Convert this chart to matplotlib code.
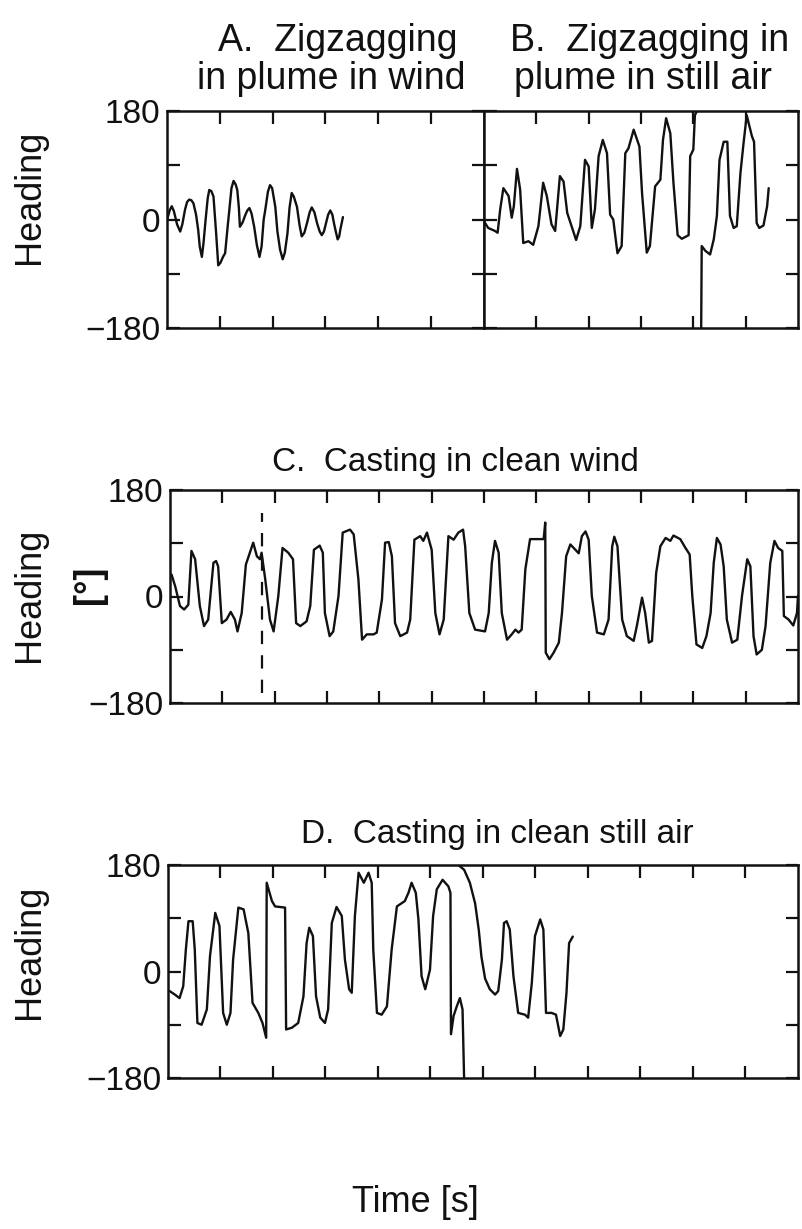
import numpy as np
import matplotlib
matplotlib.use("Agg")
import matplotlib.pyplot as plt

plt.rcParams['font.family'] = ['Liberation Sans', 'DejaVu Sans']

W, H = 803, 1229

# A. zigzagging in plume in wind
a_t = [0.00, 0.05, 0.09, 0.13, 0.19, 0.25, 0.29, 0.34, 0.38, 0.42, 0.46, 0.50, 0.55,
       0.59, 0.62, 0.66, 0.69, 0.73, 0.77, 0.80, 0.84, 0.88, 0.93, 0.97, 1.01, 1.06,
       1.10, 1.15, 1.18, 1.22, 1.26, 1.30, 1.33, 1.36, 1.38, 1.43, 1.48, 1.52, 1.56,
       1.60, 1.65, 1.70, 1.75, 1.79, 1.83, 1.86, 1.91, 1.95, 1.99, 2.05, 2.09, 2.14,
       2.19, 2.23, 2.28, 2.32, 2.36, 2.40, 2.46, 2.51, 2.55, 2.60, 2.65, 2.70, 2.74,
       2.79, 2.84, 2.89, 2.93, 2.97, 3.01, 3.05, 3.09, 3.13, 3.16, 3.20, 3.23, 3.26,
       3.28, 3.33]
a_h = [-1, 15, 22, 14, -8, -20, -8, 16, 29, 33, 32, 27, 8,
       -17, -45, -62, -40, -1, 35, 49, 47, 38, -23, -76, -72, -62,
       -56, -10, 16, 52, 64, 58, 49, 20, -12, -5, 7, 15, 19,
       10, -12, -42, -62, -45, 0, 16, 46, 57, 52, 21, -20, -50,
       -66, -55, -23, 20, 44, 38, 21, -10, -28, -22, -6, 12, 20,
       12, -6, -20, -26, -20, -6, 8, 15, 8, -6, -22, -33, -28,
       -17, 4]

# B. zigzagging in plume in still air (wraps at +/-180)
b_t = [0.00, 0.08, 0.21, 0.26, 0.31, 0.37, 0.47, 0.53, 0.57, 0.63, 0.69, 0.75, 0.85,
       0.94, 1.04, 1.13, 1.20, 1.29, 1.36, 1.45, 1.52, 1.59, 1.76, 1.84, 1.93, 2.00,
       2.06, 2.12, 2.19, 2.27, 2.35, 2.41, 2.47, 2.55, 2.63, 2.70, 2.76, 2.86, 2.97,
       3.02, 3.11, 3.17, 3.27, 3.37, 3.42, 3.48, 3.56, 3.62, 3.70, 3.78, 3.91, 3.94,
       4.00, 4.03, 4.07, np.nan, 4.15, 4.16, 4.23, 4.32, 4.39, 4.45, 4.50, 4.58, 4.65,
       4.70, 4.77, 4.83, 4.90, 4.96, 5.02, 5.12, 5.16, 5.21, 5.26, 5.34, 5.41, 5.44]
b_h = [-3, -14, -19, -22, 17, 52, 39, 3, 22, 84, 50, -39, -36,
       -42, -11, 61, 39, -8, -19, 72, 63, 11, -34, -11, 99, 88,
       -14, 17, 105, 132, 110, 8, 0, -56, -44, 110, 118, 149, 121,
       44, -55, -44, 55, 66, 132, 168, 143, 61, -26, -32, -26, 105,
       116, 173, 180, np.nan, -180, -44, -52, -58, -33, 6, 99, 129, 129,
       6, -14, -11, 77, 127, 173, 138, 129, -6, -14, -10, 22, 52]

# C. casting in clean wind
c_t = [0.03, 0.10, 0.19, 0.27, 0.35, 0.41, 0.48, 0.57, 0.65, 0.73, 0.83, 0.88, 0.92,
       0.99, 1.08, 1.16, 1.24, 1.29, 1.37, 1.45, 1.59, 1.66, 1.72, 1.75, 1.82, 1.91,
       1.98, 2.07, 2.15, 2.26, 2.35, 2.41, 2.49, 2.61, 2.68, 2.75, 2.86, 2.92, 2.96,
       3.05, 3.12, 3.22, 3.30, 3.44, 3.51, 3.60, 3.67, 3.76, 3.89, 3.95, 4.05, 4.11,
       4.18, 4.24, 4.30, 4.40, 4.53, 4.59, 4.67, 4.78, 4.84, 4.91, 5.00, 5.07, 5.15,
       5.23, 5.32, 5.42, 5.51, 5.60, 5.64, 5.72, 5.83, 6.02, 6.09, 6.15, 6.21, 6.28,
       6.34, 6.44, 6.53, 6.60, 6.66, 6.72, 6.79, 6.88, 7.14, 7.17, 7.18, 7.25, 7.33,
       7.43, 7.49, 7.57, 7.65, 7.81, 7.87, 7.94, 8.00, 8.06, 8.16, 8.29, 8.38, 8.45,
       8.49, 8.55, 8.64, 8.73, 8.86, 8.92, 9.02, 9.08, 9.15, 9.21, 9.29, 9.37, 9.47,
       9.56, 9.62, 9.75, 9.85, 9.93, 9.98, 10.06, 10.17, 10.25, 10.33, 10.39, 10.45,
       10.52, 10.58, 10.64, 10.74, 10.84, 10.93, 11.03, 11.09, 11.15, 11.21, 11.31,
       11.38, 11.47, 11.55, 11.62, 11.70, 11.73, 11.82, 11.91, 11.98, 12.00]
c_h = [37, 17, -16, -22, -14, 77, 63, -16, -50, -39, 57, 60, 51,
       -45, -39, -26, -39, -59, -28, 54, 91, 68, 63, 74, 29, -39,
       -59, 1, 82, 74, 63, -45, -50, -42, -16, 79, 86, 74, -28,
       -67, -59, 1, 108, 113, 105, 29, -73, -64, -64, -61, -5, 91,
       92, 68, -45, -67, -61, -39, 96, 102, 94, 108, 79, -28, -64,
       -39, 102, 96, 108, 113, 85, -28, -56, -59, -28, 57, 94, 74,
       -28, -73, -64, -56, -61, -56, 46, 97, 97, 125, -95, -106, -95,
       -78, -28, 68, 88, 73, 102, 110, 96, 1, -61, -64, -39, 85,
       101, 85, -39, -67, -75, -50, -2, -28, -78, -75, 40, 85, 99,
       94, 103, 97, 82, 71, 1, -81, -87, -67, -28, 57, 99,
       88, 51, -39, -78, -73, 1, 63, 51, -67, -98, -90,
       -50, 57, 94, 82, 77, -33, -39, -49, -28, 1]
c_mark_t = 1.75
c_mark_span = (-163, 141)

# D. casting in clean still air (wraps at +/-180)
d_t = [0.03, 0.13, 0.22, 0.29, 0.34, 0.39, 0.47, 0.51, 0.56, 0.64, 0.74, 0.80, 0.90,
       0.98, 1.05, 1.12, 1.19, 1.24, 1.34, 1.44, 1.53, 1.61, 1.72, 1.80, 1.87, 1.88,
       1.98, 2.04, 2.23, 2.25, 2.36, 2.48, 2.58, 2.64, 2.69, 2.76, 2.82, 2.90, 2.99,
       3.05, 3.12, 3.21, 3.31, 3.37, 3.45, 3.50, 3.56, 3.63, 3.73, 3.82, 3.88, 3.91,
       3.98, 4.07, 4.17, 4.26, 4.36, 4.51, 4.58, 4.64, 4.72, 4.77, 4.83, 4.90, 4.99,
       5.05, 5.12, 5.23, 5.34, 5.38, 5.39, 5.44, 5.50, 5.56, 5.61, 5.64, np.nan,
       5.53, 5.64, 5.75, 5.85, 5.92, 5.97, 6.04, 6.13, 6.23, 6.29, 6.36, 6.40, 6.45,
       6.51, 6.58, 6.67, 6.80, 6.86, 6.93, 6.99, 7.09, 7.15, 7.20, 7.31, 7.39, 7.47,
       7.53, 7.59, 7.64, 7.71]
d_h = [-33, -39, -45, -25, 37, 85, 85, 37, -87, -90, -64, 26, 99,
       77, -70, -90, -70, 20, 108, 105, 65, -53, -70, -87, -112, 150,
       119, 110, 108, -98, -95, -87, -42, 48, 74, 60, -42, -78, -87,
       -64, 82, 109, 94, 20, -30, -36, 94, 167, 150, 167, 150, 37,
       -70, -73, -59, 37, 110, 119, 133, 150, 133, 88, -8, -30, 3,
       94, 139, 155, 144, 133, -106, -75, -59, -45, -64, -180, np.nan,
       180, 172, 150, 115, 70, 25, -12, -30, -39, -33, 20, 82, 85,
       71, -8, -70, -73, -78, -19, 60, 88, 71, -70, -70, -73, -109,
       -98, -36, 48, 59]

ytick_vals = [-180, -90, 0, 90, 180]
ytick_text = ['\u2212180', '', '0', '', '180']

INK = '#111111'


def px_box(left, top, right, bottom):
    return [left / W, 1 - bottom / H, (right - left) / W, (bottom - top) / H]


def fig_text(x, y, s, **kw):
    fig.text(x / W, 1 - y / H, s, ha='center', va='center', color=INK, **kw)


def setup(ax, xmax, labels=True):
    ax.set_xlim(0, xmax)
    ax.set_ylim(-180, 180)
    ax.set_xticks(range(1, xmax))
    ax.set_xticklabels([])
    ax.set_yticks(ytick_vals)
    ax.set_yticklabels(ytick_text if labels else [])
    ax.tick_params(direction='in', top=True, right=True, length=9, width=1.6,
                   labelsize=24, pad=5, colors=INK)
    for sp in ax.spines.values():
        sp.set_linewidth(1.8)
        sp.set_color(INK)


fig = plt.figure(figsize=(W / 100, H / 100), dpi=100)

ax_a = fig.add_axes(px_box(167, 111, 484, 328))
ax_b = fig.add_axes(px_box(484, 111, 798, 328))
ax_c = fig.add_axes(px_box(170, 490, 798, 703))
ax_d = fig.add_axes(px_box(168, 865, 798, 1078))

trace = dict(color=INK, lw=1.7, solid_joinstyle='round', solid_capstyle='round')
ax_a.plot(a_t, a_h, **trace)
ax_b.plot(b_t, b_h, **trace)
ax_c.plot(c_t, c_h, **trace)
ax_c.plot([c_mark_t, c_mark_t], c_mark_span, color=INK, lw=1.6,
          linestyle=(0, (6, 5)))
ax_d.plot(d_t, d_h, **trace)

setup(ax_a, 6)
setup(ax_b, 6, labels=False)
setup(ax_c, 12)
setup(ax_d, 12)

fig_text(338, 41, 'A.  Zigzagging', fontsize=27)
fig_text(331, 79, 'in plume in wind', fontsize=27)
fig_text(650, 41, 'B.  Zigzagging in', fontsize=27)
fig_text(643, 79, 'plume in still air', fontsize=27)
fig_text(455, 462, 'C.  Casting in clean wind', fontsize=24)
fig_text(497, 835, 'D.  Casting in clean still air', fontsize=24)

for y in (197, 595, 952):
    fig_text(30, y, 'Heading', fontsize=26, rotation=90)
fig_text(90, 585, '[\u00b0]', fontsize=26, rotation=90, fontweight='bold')

fig_text(415, 1203, 'Time [s]', fontsize=26)

fig.savefig('out.png', dpi=100)
